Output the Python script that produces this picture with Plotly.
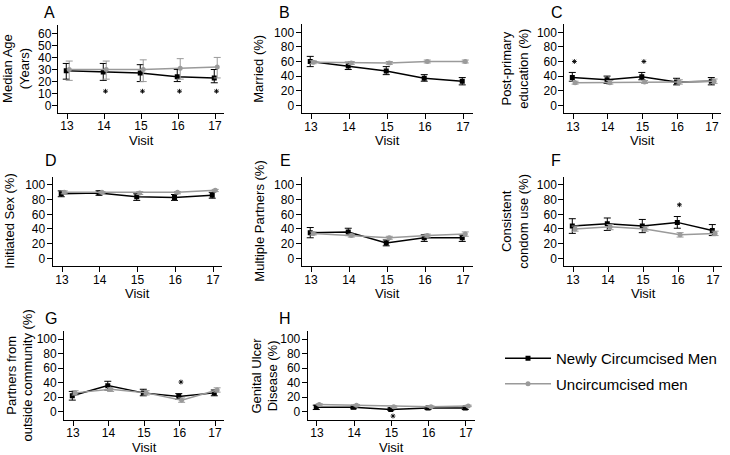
import plotly.graph_objects as go

# ---------------- data ----------------
visits = [13, 14, 15, 16, 17]
series_names = ["Newly Circumcised Men", "Uncircumcised men"]
panel_letters = ["A", "B", "C", "D", "E", "F", "G", "H"]
y_titles = ["Median Age<br>(Years)", "Married (%)", "Post-primary<br>education (%)",
            "Initiated Sex (%)", "Multiple Partners (%)", "Consistent<br>condom use (%)",
            "Partners from<br>outside community (%)", "Genital Ulcer<br>Disease (%)"]
x_title = "Visit"
age_ticks = [0, 10, 20, 30, 40, 50, 60]
pct_ticks = [0, 20, 40, 60, 80, 100]

# A: Median age
nc_age = [29, 28, 27, 24, 23]
nc_age_lo = [22, 21, 20, 20, 19]
nc_age_hi = [35, 35, 34, 30, 30]
un_age = [30, 30, 30, 31, 32]
un_age_lo = [21, 22, 20, 22, 23]
un_age_hi = [37, 37, 38, 39, 40]
star_age_x = [14, 15, 16, 17]
star_age_y = [12, 12, 12, 12]

# B: Married
nc_mar = [60, 54, 47, 37, 33]
nc_mar_lo = [53, 49, 42, 33, 28]
nc_mar_hi = [67, 59, 53, 42, 38]
un_mar = [59, 58, 58, 60, 60]
un_mar_lo = [57, 56, 56, 58, 58]
un_mar_hi = [61, 60, 60, 62, 62]
star_mar_x = []
star_mar_y = []

# C: Post-primary education
nc_edu = [38, 35, 39, 32, 33]
nc_edu_lo = [33, 30, 35, 28, 28]
nc_edu_hi = [45, 40, 45, 37, 38]
un_edu = [31, 31, 32, 32, 33]
un_edu_lo = [29, 29, 30, 29, 30]
un_edu_hi = [33, 34, 34, 35, 36]
star_edu_x = [13, 15]
star_edu_y = [60, 60]

# D: Initiated sex
nc_sex = [88, 89, 84, 83, 86]
nc_sex_lo = [84, 86, 79, 79, 82]
nc_sex_hi = [92, 92, 88, 87, 90]
un_sex = [90, 90, 89, 90, 93]
un_sex_lo = [88, 88, 87, 88, 91]
un_sex_hi = [92, 91, 91, 91, 94]
star_sex_x = []
star_sex_y = []

# E: Multiple partners
nc_mp = [35, 36, 21, 28, 28]
nc_mp_lo = [28, 31, 17, 23, 23]
nc_mp_hi = [42, 41, 25, 32, 32]
un_mp = [34, 31, 28, 31, 33]
un_mp_lo = [32, 29, 26, 29, 30]
un_mp_hi = [36, 33, 30, 33, 36]
star_mp_x = []
star_mp_y = []

# F: Consistent condom use
nc_cc = [44, 47, 44, 49, 38]
nc_cc_lo = [34, 38, 35, 41, 31]
nc_cc_hi = [54, 55, 53, 57, 46]
un_cc = [40, 43, 40, 32, 34]
un_cc_lo = [37, 39, 37, 29, 31]
un_cc_hi = [44, 46, 43, 35, 37]
star_cc_x = [16]
star_cc_y = [73]

# G: Partners from outside community
nc_out = [22, 36, 26, 21, 26]
nc_out_lo = [16, 30, 22, 17, 22]
nc_out_hi = [28, 42, 31, 25, 30]
un_out = [26, 31, 26, 16, 30]
un_out_lo = [23, 28, 23, 13, 27]
un_out_hi = [29, 33, 29, 19, 33]
star_out_x = [16]
star_out_y = [41]

# H: Genital ulcer disease
nc_gud = [6, 6, 3, 5, 5]
nc_gud_lo = [3, 4, 2, 3, 3]
nc_gud_hi = [9, 8, 5, 6, 7]
un_gud = [10, 9, 7, 7, 8]
un_gud_lo = [9, 8, 6, 6, 7]
un_gud_hi = [11, 10, 8, 8, 9]
star_gud_x = [15]
star_gud_y = [-6]

panel_data = [
    (nc_age, nc_age_lo, nc_age_hi, un_age, un_age_lo, un_age_hi, star_age_x, star_age_y, age_ticks),
    (nc_mar, nc_mar_lo, nc_mar_hi, un_mar, un_mar_lo, un_mar_hi, star_mar_x, star_mar_y, pct_ticks),
    (nc_edu, nc_edu_lo, nc_edu_hi, un_edu, un_edu_lo, un_edu_hi, star_edu_x, star_edu_y, pct_ticks),
    (nc_sex, nc_sex_lo, nc_sex_hi, un_sex, un_sex_lo, un_sex_hi, star_sex_x, star_sex_y, pct_ticks),
    (nc_mp, nc_mp_lo, nc_mp_hi, un_mp, un_mp_lo, un_mp_hi, star_mp_x, star_mp_y, pct_ticks),
    (nc_cc, nc_cc_lo, nc_cc_hi, un_cc, un_cc_lo, un_cc_hi, star_cc_x, star_cc_y, pct_ticks),
    (nc_out, nc_out_lo, nc_out_hi, un_out, un_out_lo, un_out_hi, star_out_x, star_out_y, pct_ticks),
    (nc_gud, nc_gud_lo, nc_gud_hi, un_gud, un_gud_lo, un_gud_hi, star_gud_x, star_gud_y, pct_ticks),
]

# ---------------- layout geometry (pixels) ----------------
W, H = 730, 455
# (x of tick 13, x of tick 17, y of value 0, y of top tick)
geom = [
    (67, 215, 105.7, 33.3),
    (311, 463, 105.3, 32.3),
    (573, 712, 105.3, 32.3),
    (62, 213, 258.3, 185.0),
    (311, 463, 258.3, 185.0),
    (573, 713, 258.3, 185.0),
    (73, 215, 411.7, 339.3),
    (317, 466, 411.7, 339.3),
]
ytitle_x = [16, 259, 515, 10, 260, 515, 19, 264]
ylabel_standoff = [-2, -1, -1, -1, -1, -1, -1, -1]
letter_pos = [(49, 12), (284, 12), (557, 12), (51, 160), (285, 160), (556, 160), (51, 318), (285, 318)]
x_range = [12.75, 17.25]
age_range = [-6, 67]
pct_range = [-11, 111]

FONT = "Liberation Sans, Arial, Helvetica, sans-serif"
BLACK = "#000000"
GREY = "#9a9a9a"

fig = go.Figure()
annotations = []
layout = {}

for i in range(8):
    nc, nc_lo, nc_hi, un, un_lo, un_hi, sx, sy, yt = panel_data[i]
    x13, x17, y0, ytop = geom[i]
    ux = (x17 - x13) / 4.0
    left_px = x13 - (13 - x_range[0]) * ux
    right_px = x17 + (x_range[1] - 17) * ux
    yr = age_range if i == 0 else pct_range
    topval = yt[-1]
    uy = (y0 - ytop) / topval
    bot_px = y0 - yr[0] * uy
    top_px = y0 - yr[1] * uy
    xd = [left_px / W, right_px / W]
    yd = [1 - bot_px / H, 1 - top_px / H]

    n = "" if i == 0 else str(i + 1)
    xref, yref = "x" + n, "y" + n
    axis_common = dict(showline=True, linecolor=BLACK, linewidth=1, ticks="outside",
                       ticklen=5, tickwidth=1, tickcolor=BLACK, showgrid=False,
                       zeroline=False, tickfont=dict(family=FONT, size=12, color=BLACK))
    layout["xaxis" + n] = dict(axis_common, domain=xd, range=x_range, tickvals=visits,
                               anchor=yref, ticklabelstandoff=-3)
    layout["yaxis" + n] = dict(axis_common, domain=yd, range=yr, tickvals=yt,
                               anchor=xref, ticklabelstandoff=ylabel_standoff[i])

    fig.add_trace(go.Scatter(
        x=[v - 0.02 for v in visits], y=nc, xaxis=xref, yaxis=yref,
        mode="lines+markers", name=series_names[0], showlegend=(i == 0),
        legendgroup="nc",
        line=dict(color=BLACK, width=1.5),
        marker=dict(symbol="square", size=5, color=BLACK),
        error_y=dict(type="data", symmetric=False,
                     array=[h - m for h, m in zip(nc_hi, nc)],
                     arrayminus=[m - l for m, l in zip(nc, nc_lo)],
                     color=BLACK, thickness=1, width=3.5),
    ))
    fig.add_trace(go.Scatter(
        x=[v + 0.06 for v in visits], y=un, xaxis=xref, yaxis=yref,
        mode="lines+markers", name=series_names[1], showlegend=(i == 0),
        legendgroup="un",
        line=dict(color=GREY, width=1.5),
        marker=dict(symbol="circle", size=5, color=GREY),
        error_y=dict(type="data", symmetric=False,
                     array=[h - m for h, m in zip(un_hi, un)],
                     arrayminus=[m - l for m, l in zip(un, un_lo)],
                     color=GREY, thickness=1, width=3.5),
    ))
    if sx:
        fig.add_trace(go.Scatter(
            x=[v + 0.04 for v in sx], y=sy, xaxis=xref, yaxis=yref,
            mode="markers", showlegend=False, hoverinfo="skip",
            marker=dict(symbol="asterisk-open", size=4, color=BLACK,
                        line=dict(color=BLACK, width=0.9)),
        ))

    # y title
    annotations.append(dict(
        text=y_titles[i], xref="paper", yref="paper",
        x=ytitle_x[i] / W, y=(yd[0] + yd[1]) / 2, textangle=-90,
        xanchor="center", yanchor="middle", showarrow=False,
        font=dict(family=FONT, size=13, color=BLACK)))
    # x title
    annotations.append(dict(
        text=x_title, xref="paper", yref="paper",
        x=(xd[0] + xd[1]) / 2, y=1 - (bot_px + 27.5) / H,
        xanchor="center", yanchor="middle", showarrow=False,
        font=dict(family=FONT, size=13, color=BLACK)))
    # panel letter
    lx, ly = letter_pos[i]
    annotations.append(dict(
        text=panel_letters[i], xref="paper", yref="paper",
        x=lx / W, y=1 - ly / H, xanchor="center", yanchor="middle",
        showarrow=False, font=dict(family=FONT, size=16, color=BLACK)))

fig.update_layout(
    width=W, height=H,
    margin=dict(l=0, r=0, t=0, b=0),
    paper_bgcolor="white", plot_bgcolor="white",
    annotations=annotations,
    showlegend=True,
    legend=dict(x=500 / W, y=1 - 342 / H, xanchor="left", yanchor="top",
                font=dict(family=FONT, size=15, color=BLACK),
                bgcolor="rgba(0,0,0,0)", itemwidth=46, tracegroupgap=3,
                traceorder="grouped"),
    **layout,
)

fig.write_html("out.html", config={"displayModeBar": False},
               post_script="document.body.style.margin='0';")
